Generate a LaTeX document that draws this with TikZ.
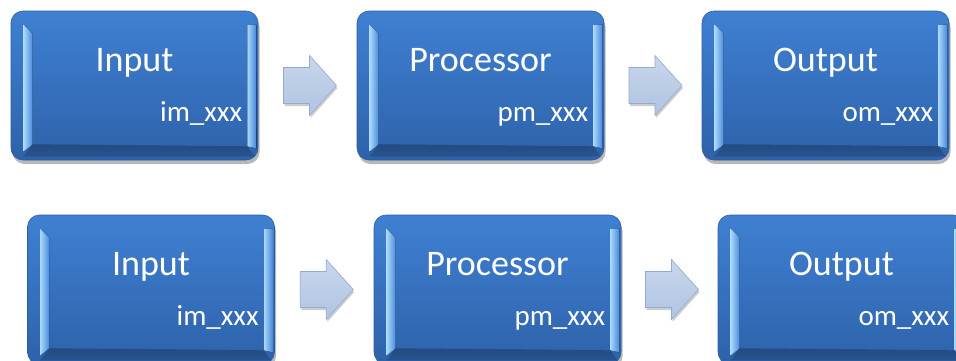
\documentclass[tikz,border=0pt]{standalone}
\usepackage{fontspec}
\setmainfont{Carlito}
\usetikzlibrary{calc,shadows}
\definecolor{boxtop}{HTML}{3F80D2}
\definecolor{boxbot}{HTML}{2E62AA}
\definecolor{boxedge}{HTML}{2C5C9E}
\definecolor{bevlight}{HTML}{A8D8FD}
\definecolor{bevmid}{HTML}{4A8ADA}
\definecolor{bevdark}{HTML}{2A5898}
\definecolor{arrtop}{HTML}{C9D7EC}
\definecolor{arrbot}{HTML}{B0C3E1}
\definecolor{arredge}{HTML}{94AAD0}
\tikzset{
  box/.style={rounded corners=12pt, minimum width=247pt, minimum height=149pt,
    top color=boxtop, bottom color=boxbot, draw=boxedge, line width=.6pt,
    drop shadow={shadow xshift=1.5pt, shadow yshift=-4pt, opacity=.28, fill=black}},
  levstrip/.style={left color=bevlight, right color=bevmid},
  revstrip/.style={left color=bevlight, right color=bevmid!70!boxtop},
  botstrip/.style={top color=bevdark, bottom color=bevmid!60!boxbot},
  title/.style={text=white, font=\fontsize{36}{42}\selectfont, inner sep=0pt},
  sub/.style={text=white, font=\fontsize{29}{34}\selectfont, inner sep=0pt},
  arr/.style={top color=arrtop, bottom color=arrbot, draw=arredge, line width=.6pt,
    drop shadow={shadow xshift=1pt, shadow yshift=-2.5pt, opacity=.2, fill=black}}
}
\newcommand\bevels[1]{%
  \fill[levstrip] ($(#1.north west)+(13,14)$) -- ($(#1.north west)+(22,23)$) --
     ($(#1.south west)+(22,-16)$) -- ($(#1.south west)+(13,-9)$) -- cycle;
  \fill[revstrip] ($(#1.north east)+(-11,14)$) -- ($(#1.north east)+(-2,14)$) --
     ($(#1.south east)+(-2,-12)$) -- ($(#1.south east)+(-11,-14)$) -- cycle;
  \fill[botstrip, opacity=.3] ($(#1.south west)+(22,-16)$) -- ($(#1.south east)+(-11,-14)$) --
     ($(#1.south east)+(-4,-4)$) -- ($(#1.south west)+(13,-4)$) -- cycle;
}
\newcommand\blockarrow[1]{%
  \draw[arr] ($(#1)+(-26,-18)$) -- ($(#1)+(0,-18)$) -- ($(#1)+(0,-30)$) --
    ($(#1)+(27,0)$) -- ($(#1)+(0,30)$) -- ($(#1)+(0,18)$) -- ($(#1)+(-26,18)$) -- cycle;
}
\begin{document}
\begin{tikzpicture}[x=1pt,y=-1pt]
\useasboundingbox (0,0) rectangle (956,360);
\fill[white] (0,0) rectangle (956,360);
\clip (0,0) rectangle (956,360);
% row 1
\node[box] (in1) at (134.5,85.5) {};
\node[box] (pr1) at (480.5,85.5) {};
\node[box] (ou1) at (825.5,85.5) {};
% row 2
\node[box] (in2) at (151,289.5) {};
\node[box] (pr2) at (497.5,289.5) {};
\node[box] (ou2) at (841.5,289.5) {};
\foreach \n in {in1,pr1,ou1,in2,pr2,ou2}{\bevels{\n}}
% titles
\node[title, anchor=base] (tin1) at ($(in1.north)+(0,61)$) {Input};
\node[title, anchor=base] (tpr1) at ($(pr1.north)+(0,61)$) {Processor};
\node[title, anchor=base] (tou1) at ($(ou1.north)+(0,61)$) {Output};
\node[title, anchor=base] (tin2) at ($(in2.north)+(0,61)$) {Input};
\node[title, anchor=base] (tpr2) at ($(pr2.north)+(0,61)$) {Processor};
\node[title, anchor=base] (tou2) at ($(ou2.north)+(0,61)$) {Output};
% sub labels
\node[sub, anchor=base east] (sin1) at ($(in1.north east)+(-16,111)$) {im\_xxx};
\node[sub, anchor=base east] (spr1) at ($(pr1.north east)+(-16,111)$) {pm\_xxx};
\node[sub, anchor=base east] (sou1) at ($(ou1.north east)+(-16,111)$) {om\_xxx};
\node[sub, anchor=base east] (sin2) at ($(in2.north east)+(-16,111)$) {im\_xxx};
\node[sub, anchor=base east] (spr2) at ($(pr2.north east)+(-16,111)$) {pm\_xxx};
\node[sub, anchor=base east] (sou2) at ($(ou2.north east)+(-16,111)$) {om\_xxx};
% arrows
\coordinate (a1) at ($(in1.east)!0.5!(pr1.west)+(2,0)$);
\coordinate (a2) at ($(pr1.east)!0.5!(ou1.west)+(2,0)$);
\coordinate (a3) at ($(in2.east)!0.5!(pr2.west)+(2,0)$);
\coordinate (a4) at ($(pr2.east)!0.5!(ou2.west)+(2,0)$);
\foreach \c in {a1,a2,a3,a4}{\blockarrow{\c}}
\end{tikzpicture}
\end{document}
